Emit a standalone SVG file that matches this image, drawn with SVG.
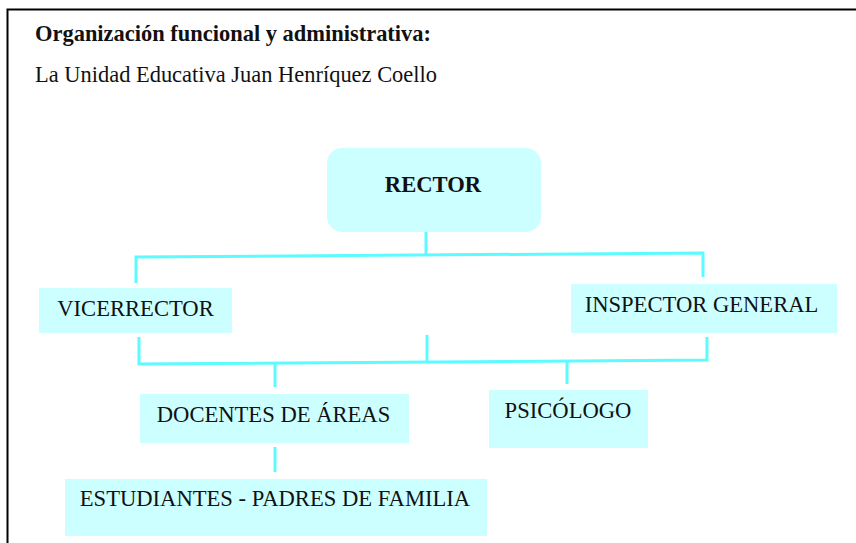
<svg xmlns="http://www.w3.org/2000/svg" width="856" height="543" viewBox="0 0 856 543">
<style>
.box{fill:#CCFFFF;}
.b{font-weight:bold;}
.ln{fill:none;stroke:#5CFBFF;stroke-width:3;}
.fr{fill:none;stroke:#000;stroke-width:2;}
text{font-family:'Liberation Serif','Times New Roman','DejaVu Serif',serif;font-size:22.6px;fill:#111;}
.m{text-anchor:middle;}
</style>
<rect width="856" height="543" fill="#fff"/>
<path class="fr" d="M7.5 543 V9.5 H856"/>
<text class="b" x="35" y="41" textLength="396" lengthAdjust="spacingAndGlyphs">Organización funcional y administrativa:</text>
<text x="35" y="82" textLength="402" lengthAdjust="spacingAndGlyphs">La Unidad Educativa Juan Henríquez Coello</text>
<g id="connectors">
<path class="ln" d="M426 232 V256"/>
<path class="ln" d="M136 283 V257 L703 253 V277"/>
<path class="ln" d="M139 337 V364 L707 360 V337"/>
<path class="ln" d="M427 335 V362"/>
<path class="ln" d="M275 363 V387"/>
<path class="ln" d="M567 361 V384"/>
<path class="ln" d="M275 447 V472"/>
</g>
<g id="rector">
<rect class="box" x="327" y="148" width="214" height="84" rx="15"/>
<text class="b m" x="433" y="192">RECTOR</text>
</g>
<g id="vicerrector">
<rect class="box" x="39" y="288" width="193" height="45"/>
<text class="m" x="135.5" y="316">VICERRECTOR</text>
</g>
<g id="inspector">
<rect class="box" x="571" y="284" width="266" height="49"/>
<text class="m" x="701.5" y="312">INSPECTOR GENERAL</text>
</g>
<g id="docentes">
<rect class="box" x="140" y="394" width="269" height="49"/>
<text class="m" x="273.5" y="422">DOCENTES DE ÁREAS</text>
</g>
<g id="psicologo">
<rect class="box" x="489" y="390" width="159" height="58"/>
<text class="m" x="568" y="418">PSICÓLOGO</text>
</g>
<g id="estudiantes">
<rect class="box" x="65" y="479" width="422" height="57"/>
<text class="m" x="275" y="506">ESTUDIANTES - PADRES DE FAMILIA</text>
</g>
</svg>
